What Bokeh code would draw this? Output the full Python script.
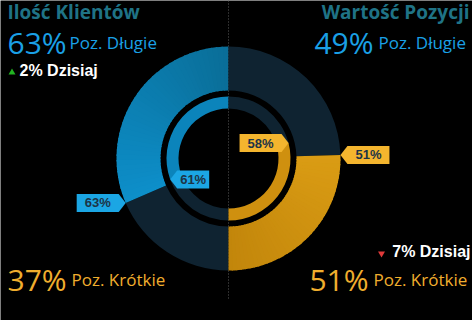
import math
from bokeh.plotting import figure
from bokeh.models import Range1d
from bokeh.core.properties import value
from bokeh.embed import file_html
from bokeh.resources import INLINE

# ---- data ----
titles = ["Ilość Klientów", "Wartość Pozycji"]
klienci_outer = [63, 37]   # Długie, Krótkie
klienci_inner = [61, 39]
wartosc_outer = [49, 51]
wartosc_inner = [42, 58]
zmiana_dzis = [2, -7]
pos_labels = ["Poz. Długie", "Poz. Krótkie"]

# ---- style ----
BG = "#000000"
BLUE_A, BLUE_B = (10, 110, 152), (13, 143, 202)
YEL_A, YEL_B = (218, 156, 20), (194, 134, 11)
BLUE = "#0b84bb"
DARK = "#0f2331"
YEL = "#cf900f"
BLUE_LBL = "#1ba6e4"
YEL_LBL = "#f4b52e"
TITLE_C = "#1f7386"
LONG_C = "#1aa0e6"
SHORT_C = "#f0ae2e"
FONT = value("Open Sans")
BOLD_FONT = value("Liberation Sans")

W, H = 472, 320
p = figure(width=W, height=H, x_range=Range1d(0, W), y_range=Range1d(0, H),
           output_backend="svg", toolbar_location=None, min_border=0,
           x_axis_type=None, y_axis_type=None,
           background_fill_color=BG, border_fill_color=BG, outline_line_color=None)
p.grid.visible = False

cx, cy = 228, 162
R_OUT = (68, 112)
R_IN = (50, 62)
PI = math.pi

# divider
p.segment(x0=[cx], y0=[22], x1=[cx], y1=[H], line_color="#5a5a5a", line_width=1, line_dash="1 2")

def ring(r, start, end, color):
    p.annular_wedge(x=[cx], y=[cy], inner_radius=r[0], outer_radius=r[1],
                    start_angle=[start], end_angle=[end], direction="anticlock",
                    fill_color=color, line_color=None)

def grad_ring(r, a0, a1, c0, c1, n=40):
    # gradient along the arc from angle a0 (colour c0) to a1 (colour c1)
    starts, ends, cols = [], [], []
    for i in range(n):
        t0 = a0 + (a1 - a0) * i / n
        t1 = a0 + (a1 - a0) * min(1.0, (i + 1.3) / n)
        f = (i + 0.5) / n
        c = tuple(int(round(c0[k] + (c1[k] - c0[k]) * f)) for k in range(3))
        starts.append(min(t0, t1)); ends.append(max(t0, t1))
        cols.append("#%02x%02x%02x" % c)
    p.annular_wedge(x=[cx] * n, y=[cy] * n, inner_radius=r[0], outer_radius=r[1],
                    start_angle=starts, end_angle=ends, direction="anticlock",
                    fill_color=cols, line_color=None)

# left half: long (blue) from top going anticlockwise
lo_b = PI / 2 + PI * klienci_outer[0] / 100
li_b = PI / 2 + PI * klienci_inner[0] / 100
ring(R_OUT, lo_b, 3 * PI / 2, DARK)
grad_ring(R_OUT, PI / 2, lo_b, BLUE_A, BLUE_B)
ring(R_IN, PI / 2, li_b, BLUE)
ring(R_IN, li_b, 3 * PI / 2, DARK)

# right half: long (dark) from top clockwise, short (yellow) below
ro_b = PI / 2 - PI * wartosc_outer[0] / 100
ri_b = PI / 2 - PI * wartosc_inner[0] / 100
ring(R_OUT, ro_b, PI / 2, DARK)
grad_ring(R_OUT, ro_b, -PI / 2, YEL_A, YEL_B)
ring(R_IN, ri_b, PI / 2, DARK)
ring(R_IN, -PI / 2, ri_b, YEL)

def callout(angle, r, side, txt, color, bw=42):
    tx = cx + r * math.cos(angle)
    ty = cy + r * math.sin(angle)
    tip, hh = 7, 9
    xs = [tx, tx + side * tip, tx + side * (tip + bw), tx + side * (tip + bw), tx + side * tip]
    ys = [ty, ty + hh, ty + hh, ty - hh, ty - hh]
    p.patch(xs, ys, fill_color=color, line_color=None)
    p.text(x=[tx + side * (tip + bw / 2)], y=[ty], text=[txt], text_font=BOLD_FONT,
           text_font_style="bold", text_font_size="13px", text_color="#1d3446",
           text_align="center", text_baseline="middle")

callout(lo_b, R_OUT[1], -1, f"{klienci_outer[0]}%", BLUE_LBL)
callout(li_b, R_IN[1], +1, f"{klienci_inner[0]}%", BLUE_LBL, bw=32)
callout(ro_b, R_OUT[1], +1, f"{wartosc_outer[1]}%", YEL_LBL)
callout(ri_b, R_IN[1], -1, f"{wartosc_inner[1]}%", YEL_LBL)

def txt(x, y, s, size, color, align="left", font=FONT, style="normal"):
    p.text(x=[x], y=[y], text=[s], text_font=font, text_font_size=size, text_color=color,
           text_align=align, text_baseline="alphabetic", text_font_style=style)

# titles
txt(7, H - 11, titles[0], "19px", TITLE_C, style="bold")
txt(469, H - 11, titles[1], "19px", TITLE_C, align="right", style="bold")

# left headline
txt(7, H - 42, f"{klienci_outer[0]}%", "30px", LONG_C)
txt(69, H - 42, pos_labels[0], "17px", LONG_C)
p.scatter(x=[11.5], y=[H - 72], marker="triangle", size=7, fill_color="#22b422", line_color=None)
txt(19, H - 70, f"{abs(zmiana_dzis[0])}% Dzisiaj", "16px", "white", font=BOLD_FONT, style="bold")
txt(7, H - 279, f"{klienci_outer[1]}%", "30px", SHORT_C)
txt(71, H - 279, pos_labels[1], "17px", SHORT_C)

# right headline
txt(373, H - 42, f"{wartosc_outer[0]}%", "30px", LONG_C, align="right")
txt(378, H - 42, pos_labels[0], "17px", LONG_C)
p.scatter(x=[381], y=[H - 253], marker="inverted_triangle", size=7, fill_color="#e03a3a", line_color=None)
txt(470, H - 251, f"{abs(zmiana_dzis[1])}% Dzisiaj", "16px", "white", align="right", font=BOLD_FONT, style="bold")
txt(368, H - 279, f"{wartosc_outer[1]}%", "30px", SHORT_C, align="right")
txt(373, H - 279, pos_labels[1], "17px", SHORT_C)

open("out.html", "w").write(file_html(p, INLINE))
